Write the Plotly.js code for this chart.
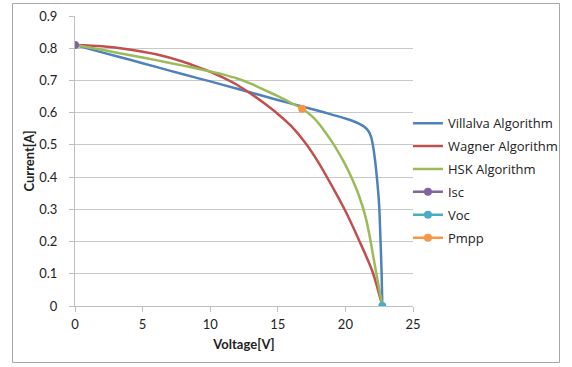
<!DOCTYPE html>
<html>
<head>
<meta charset="utf-8">
<script src="https://cdn.plot.ly/plotly-3.0.1.min.js"></script>
<style>
html,body{margin:0;padding:0;background:#fff;}
#chart{width:572px;height:367px;}
</style>
</head>
<body>
<div id="chart"></div>
<script>
// Villalva Algorithm
const villalvaV = [0, 2, 4, 6, 8, 10, 12, 14, 16, 18, 19, 20, 20.5, 21, 21.4, 21.7, 21.9, 22.05, 22.2, 22.35, 22.5, 22.6, 22.68, 22.73];
const villalvaI = [0.81, 0.787, 0.765, 0.742, 0.719, 0.697, 0.674, 0.651, 0.628, 0.606, 0.594, 0.582, 0.575, 0.566, 0.556, 0.543, 0.525, 0.495, 0.45, 0.39, 0.31, 0.20, 0.10, 0];
// Wagner Algorithm
const wagnerV = [0, 2, 4, 6, 8, 9, 10, 11, 12, 13, 14, 15, 16, 17, 18, 19, 20, 21, 22, 22.73];
const wagnerI = [0.81, 0.806, 0.796, 0.781, 0.758, 0.743, 0.727, 0.708, 0.686, 0.659, 0.629, 0.596, 0.558, 0.508, 0.446, 0.373, 0.295, 0.205, 0.107, 0];
// HSK Algorithm
const hskV = [0, 2, 4, 6, 8, 9, 10, 11, 12, 13, 14, 15, 16, 16.8, 17.5, 18, 18.5, 19, 19.5, 20, 20.5, 21, 21.5, 21.8, 22.1, 22.4, 22.73];
const hskI = [0.81, 0.795, 0.779, 0.763, 0.746, 0.737, 0.728, 0.718, 0.706, 0.690, 0.671, 0.651, 0.630, 0.612, 0.590, 0.568, 0.540, 0.510, 0.476, 0.438, 0.394, 0.343, 0.275, 0.215, 0.145, 0.075, 0];
// Points
const iscV = [0], iscI = [0.81];
const vocV = [22.73], vocI = [0];
const pmppV = [16.8], pmppI = [0.612];

const xTicks = [0, 5, 10, 15, 20, 25];
const yTicks = [0, 0.1, 0.2, 0.3, 0.4, 0.5, 0.6, 0.7, 0.8, 0.9];

const lineStyle = (c) => ({color: c, width: 2.5, shape: 'spline', smoothing: 0.8});

const traces = [
  {x: villalvaV, y: villalvaI, name: 'Villalva Algorithm', legendgroup: 'a', mode: 'lines', line: lineStyle('#4F81BD')},
  {x: wagnerV, y: wagnerI, name: 'Wagner Algorithm', legendgroup: 'b', mode: 'lines', line: lineStyle('#C0504D')},
  {x: hskV, y: hskI, name: 'HSK Algorithm', legendgroup: 'c', mode: 'lines', line: lineStyle('#9BBB59')},
  {x: iscV, y: iscI, name: 'Isc', legendgroup: 'd', mode: 'lines+markers', line: {color: '#8064A2', width: 2.5}, marker: {color: '#8064A2', size: 8}},
  {x: vocV, y: vocI, name: 'Voc', legendgroup: 'e', mode: 'lines+markers', line: {color: '#4BACC6', width: 2.5}, marker: {color: '#4BACC6', size: 8}},
  {x: pmppV, y: pmppI, name: 'Pmpp', legendgroup: 'f', mode: 'lines+markers', line: {color: '#F79646', width: 2.5}, marker: {color: '#F79646', size: 8}}
];

const font = {family: 'Lato, "Liberation Sans", sans-serif', size: 13, color: '#222'};

const layout = {
  width: 572, height: 367,
  margin: {l: 75, r: 159, t: 16, b: 61, autoexpand: false},
  paper_bgcolor: '#fff', plot_bgcolor: '#fff',
  font: font,
  showlegend: true,
  legend: {x: 0.985, xanchor: 'left', y: 0.682, yanchor: 'top', font: {family: '"Open Sans", sans-serif', size: 13, color: '#222'}, bgcolor: 'rgba(0,0,0,0)', tracegroupgap: 3},
  xaxis: {
    range: [0, 25], tickvals: xTicks, ticktext: xTicks.map(String),
    showgrid: false, zeroline: false,
    showline: true, linecolor: '#BFBFBF', linewidth: 1,
    ticks: 'outside', ticklen: 5, tickcolor: '#BFBFBF',
    ticklabelstandoff: 1,
    tickfont: {size: 13, color: '#222', family: font.family},
    title: {text: '<b>Voltage[V]</b>', font: {size: 13, color: '#222', family: font.family}, standoff: 9},
    automargin: false, fixedrange: true
  },
  yaxis: {
    range: [0, 0.9], tickvals: yTicks, ticktext: yTicks.map(v => String(v)),
    showgrid: true, gridcolor: '#C8C8C8', gridwidth: 1, zeroline: false,
    showline: true, linecolor: '#BFBFBF', linewidth: 1,
    ticks: 'outside', ticklen: 5, tickcolor: '#BFBFBF',
    ticklabelstandoff: 9,
    tickfont: {size: 13, color: '#222', family: font.family},
    title: {text: '<b>Current[A]</b>', font: {size: 13, color: '#222', family: font.family}, standoff: 1},
    automargin: false, fixedrange: true
  },
  shapes: [{
    type: 'rect', xref: 'paper', yref: 'paper',
    x0: (12.5 - 75) / 338, x1: (559.5 - 75) / 338,
    y0: (306 - 362.5) / 290, y1: (306 - 3.5) / 290,
    line: {color: '#A6A6A6', width: 1}, fillcolor: 'rgba(0,0,0,0)', layer: 'below'
  }]
};

Plotly.newPlot('chart', traces, layout, {displayModeBar: false, staticPlot: true});
</script>
</body>
</html>
